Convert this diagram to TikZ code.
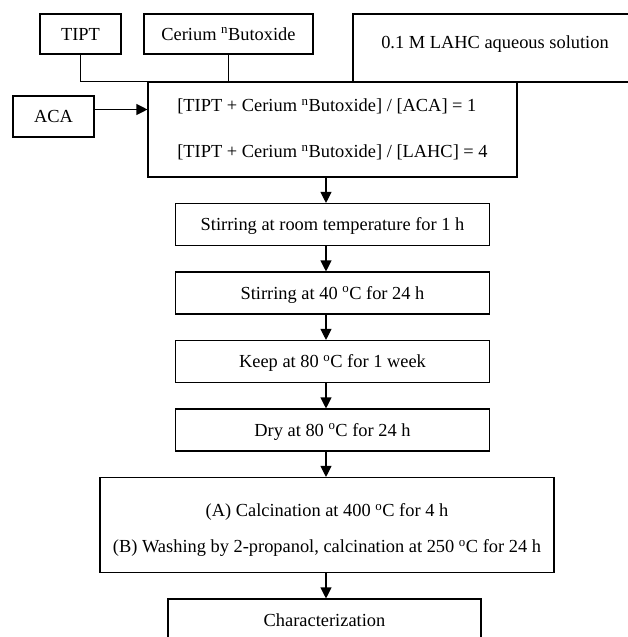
\documentclass[tikz,border=0pt]{standalone}
\usepackage{fontspec}
\setmainfont{Liberation Serif}
\usetikzlibrary{arrows.meta,positioning}

\begin{document}
\begin{tikzpicture}[x=1pt,y=-1pt,>={Triangle[length=11pt,width=11pt]},node distance=25.4pt,
  every node/.style={font=\fontsize{18.4}{22}\selectfont},
  box/.style={draw,line width=1.1pt,inner sep=0pt},
  capline/.style={text height=12pt,text depth=0pt},
  stepbox/.style={box,capline,minimum width=314pt,minimum height=42pt}]

  \useasboundingbox (0,0) rectangle (628,637);
  \coordinate (axis) at (326,0);

  % starting materials
  \node[box,capline,minimum width=81pt,minimum height=40pt] (tipt) at (80.5,34) {TIPT};
  \node[box,capline,minimum width=169pt,minimum height=40pt] (cer) at (228.5,34) {Cerium \textsuperscript{n}Butoxide};
  \node[box,text height=12pt,text depth=12pt,minimum width=284pt,minimum height=68pt] (lahc) at (495,48) {0.1 M LAHC aqueous solution};
  \node[box,capline,minimum width=81pt,minimum height=41pt] (aca) at (53.5,116.5) {ACA};
  \node[box,align=left,minimum width=369pt,minimum height=95pt,font=\fontsize{18.4}{46}\selectfont] (mix) at (332.5,129.5)
    {[TIPT + Cerium \textsuperscript{n}Butoxide] / [ACA] = 1\\{}[TIPT + Cerium \textsuperscript{n}Butoxide] / [LAHC] = 4};

  % process steps
  \node[stepbox] (s1) [below=of mix] {Stirring at room temperature for 1 h};
  \node[stepbox] (s2) [below=of s1] {Stirring at 40 \textsuperscript{o}C for 24 h};
  \node[stepbox] (s3) [below=of s2] {Keep at 80 \textsuperscript{o}C for 1 week};
  \node[stepbox] (s4) [below=of s3] {Dry at 80 \textsuperscript{o}C for 24 h};
  \node[box,align=center,minimum width=454pt,minimum height=95pt,font=\fontsize{18.4}{36.5}\selectfont] (calc) [below=of s4,xshift=-5.5pt]
    {\rule{0pt}{23pt}(A) Calcination at 400 \textsuperscript{o}C for 4 h\\(B) Washing by 2-propanol, calcination at 250 \textsuperscript{o}C for 24 h};
  \node[stepbox,minimum width=313pt] (char) [below=of calc,xshift=-2.5pt] {Characterization};

  \draw[line width=1.1pt] (tipt.south) |- (cer.south |- mix.north) -- (cer.south);
  \draw[->,line width=1.1pt] ([yshift=7pt]aca.east) -- ([yshift=7pt]aca.east -| mix.west);
  \path[->,line width=1.1pt]
    (mix.south -| axis) edge (s1.north -| axis)
    (s1.south -| axis) edge (s2.north -| axis)
    (s2.south -| axis) edge (s3.north -| axis)
    (s3.south -| axis) edge (s4.north -| axis)
    (s4.south -| axis) edge (calc.north -| axis)
    (calc.south -| axis) edge (char.north -| axis);

\end{tikzpicture}
\end{document}
